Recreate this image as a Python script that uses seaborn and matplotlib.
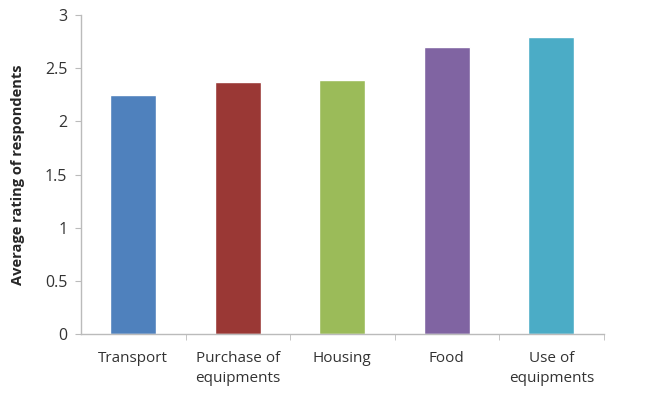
import pandas as pd
import matplotlib.pyplot as plt
import seaborn as sns
from matplotlib.ticker import FixedLocator

categories = ["Transport", "Purchase of\nequipments", "Housing", "Food", "Use of\nequipments"]
ratings = [2.25, 2.37, 2.39, 2.70, 2.79]
colors = ["#4F81BD", "#9A3835", "#9BBB59", "#8064A2", "#4BACC6"]

df = pd.DataFrame({"category": categories, "rating": ratings})

sns.set_style("white")
plt.rcParams['font.family'] = ['Open Sans', 'DejaVu Sans']

fig = plt.figure(figsize=(6.49, 3.95), dpi=100)
ax = fig.add_axes([0.125, 0.154, 0.805, 0.808])

sns.barplot(data=df, x="category", y="rating", hue="category", palette=colors,
            width=0.44, legend=False, ax=ax, saturation=1)

ax.set_ylim(0, 3)
ax.set_xlim(-0.5, len(categories) - 0.5)
ax.set_yticks([0, 0.5, 1, 1.5, 2, 2.5, 3])
ax.set_yticklabels(["0", "0.5", "1", "1.5", "2", "2.5", "3"])
ax.set_xlabel("")
ax.set_ylabel("Average rating of respondents", fontsize=10.5, fontweight="bold", labelpad=14)

ax.tick_params(axis="x", which="major", length=0, labelsize=11, pad=12, colors="#333333")
for lbl in ax.get_xticklabels():
    lbl.set_linespacing(1.5)
ax.xaxis.set_minor_locator(FixedLocator([i + 0.5 for i in range(len(categories))]))
ax.tick_params(axis="x", which="minor", length=4, color="#BBBBBB", direction="out", bottom=True)
ax.tick_params(axis="y", length=4, color="#BBBBBB", direction="out", left=True, labelsize=11.5,
               labelcolor="#333333", pad=6)

for side in ["top", "right"]:
    ax.spines[side].set_visible(False)
for side in ["left", "bottom"]:
    ax.spines[side].set_color("#BBBBBB")
    ax.spines[side].set_linewidth(1)

fig.savefig("out.png", dpi=100)
